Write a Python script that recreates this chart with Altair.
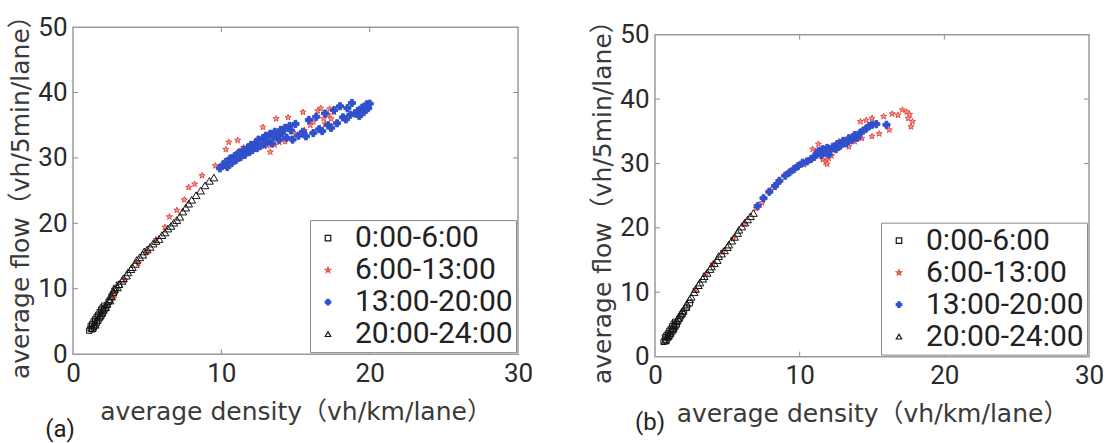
import altair as alt
import pandas as pd

# ---- legend categories and styling ----
PERIODS = ["0:00-6:00", "6:00-13:00", "13:00-20:00", "20:00-24:00"]
STAR = ("M0,-1L0.235,-0.324L0.951,-0.309L0.38,0.124L0.588,0.809L0,0.4"
        "L-0.588,0.809L-0.38,0.124L-0.951,-0.309L-0.235,-0.324Z")
SHAPES = ["square", STAR, "cross", "triangle-up"]
STROKES = ["#151515", "#e8493f", "#3050cc", "#151515"]
FILLS = ["transparent", "#f3a096", "#3050cc", "transparent"]
SIZES = [30, 60, 20, 30]

# ---- panel (a) ----
a_night_density = [1.1, 1.2, 1.2, 1.3, 1.3, 1.4, 1.4, 1.5, 1.5, 1.6, 1.6, 1.7, 1.7, 1.8, 1.8,
                   1.9, 1.9, 2.0, 2.0, 2.1, 2.1, 2.2, 2.3, 2.4, 2.5, 2.6, 2.7, 2.8, 2.9, 3.1]
a_night_flow = [3.6, 3.9, 4.3, 3.8, 4.6, 4.1, 5.0, 4.4, 5.3, 4.8, 5.7, 5.1, 6.0, 5.5, 6.4,
                5.8, 6.8, 6.2, 7.1, 6.6, 7.4, 7.0, 7.5, 8.0, 8.3, 8.8, 9.2, 9.7, 10.1, 10.6]

a_morning_density = [2.8, 3.5, 4.4, 5.0, 5.6, 6.2, 6.5, 7.0, 7.5, 7.8, 8.2, 8.7, 9.6, 10.3, 10.5,
                     11.1, 10.8, 11.0, 11.2, 11.5, 12.0, 12.3, 12.8, 12.9, 13.1, 13.3, 13.6, 13.9,
                     14.1, 13.7, 14.5, 15.0, 15.5, 15.6, 16.0, 16.2, 16.5, 16.7, 16.9, 17.0, 17.2,
                     17.3, 17.4, 17.6, 12.5, 14.3]
a_morning_flow = [9.0, 11.3, 13.9, 15.6, 17.5, 19.4, 21.0, 22.0, 23.6, 25.5, 26.0, 27.3, 28.8, 31.3, 32.4,
                  32.7, 30.0, 30.4, 31.0, 31.6, 31.0, 31.3, 34.7, 31.8, 31.9, 30.9, 32.0, 32.4,
                  33.0, 36.0, 36.2, 33.6, 37.0, 34.2, 35.0, 35.5, 37.2, 37.6, 36.0, 35.2, 36.6,
                  37.5, 36.0, 37.0, 32.5, 32.5]

a_afternoon_density = [9.9, 10.1, 10.3, 10.4, 10.6, 10.7, 10.9, 11.0, 11.2, 11.3, 11.5, 11.6, 11.8,
                       11.9, 12.0, 12.1, 12.3, 12.4, 12.5, 12.6, 12.8, 12.9, 13.0, 13.1, 13.3, 13.4,
                       13.5, 13.6, 13.8, 13.9, 14.0, 14.1, 14.3, 14.4, 14.6, 14.7, 14.8, 15.0, 15.2,
                       15.5, 15.7, 15.9, 16.2, 16.4, 16.6, 16.8, 17.0, 17.2, 17.4, 17.6, 17.8, 18.0,
                       18.2, 18.4, 18.5, 18.7, 18.8, 19.0, 19.2, 19.3, 19.5, 19.6, 19.8, 19.9, 20.0]
a_afternoon_flow = [28.4, 28.9, 29.4, 28.6, 29.9, 29.2, 30.3, 29.7, 30.8, 30.1, 31.2, 30.5, 31.6,
                    30.9, 32.0, 31.2, 32.3, 31.5, 32.8, 31.8, 33.0, 32.1, 33.4, 32.6, 33.7, 32.2,
                    33.2, 34.0, 33.5, 32.8, 34.3, 33.8, 34.6, 33.1, 34.9, 34.2, 32.8, 35.2, 33.4,
                    34.0, 33.3, 35.8, 33.8, 36.3, 34.4, 34.1, 36.8, 35.0, 34.6, 37.3, 35.3, 37.9,
                    36.2, 35.9, 37.6, 36.6, 38.4, 36.8, 37.2, 36.4, 37.7, 37.0, 38.2, 37.6, 38.3]

a_evening_density = [1.3, 1.5, 1.6, 1.8, 1.9, 2.0, 2.2, 2.3, 2.5, 2.6, 2.7, 2.8, 3.0, 3.1, 3.3, 3.4,
                     3.6, 3.7, 3.9, 4.0, 4.2, 4.3, 4.5, 4.7, 4.8, 5.0, 5.2, 5.4, 5.6, 5.8, 6.0, 6.2,
                     6.4, 6.6, 6.8, 7.0, 7.2, 7.4, 7.6, 7.8, 8.0, 8.3, 8.6, 8.9, 9.2, 9.5]
a_evening_flow = [4.0, 4.5, 5.2, 5.9, 6.3, 6.9, 7.2, 7.7, 8.2, 8.8, 9.5, 9.9, 10.2, 10.7, 11.2, 11.6,
                  12.0, 12.5, 13.0, 13.3, 13.8, 14.4, 14.8, 15.2, 15.7, 16.0, 16.4, 16.9, 17.3, 17.6,
                  18.2, 18.6, 19.2, 19.6, 20.1, 20.5, 21.0, 21.8, 22.4, 23.0, 23.6, 24.3, 25.0, 25.8,
                  26.5, 27.0]

# ---- panel (b) ----
b_night_density = [0.6, 0.7, 0.7, 0.8, 0.8, 0.9, 0.9, 1.0, 1.0, 1.1, 1.1, 1.2, 1.2, 1.3, 1.3,
                   1.4, 1.4, 1.5, 1.6, 1.7, 1.8, 1.9, 2.0, 2.2, 2.4]
b_night_flow = [2.3, 2.6, 3.0, 2.5, 3.3, 2.9, 3.6, 3.2, 4.0, 3.5, 4.3, 3.9, 4.7, 4.2, 5.1,
                4.6, 5.4, 5.0, 5.5, 5.9, 6.3, 6.6, 7.0, 7.6, 8.3]

b_morning_density = [2.8, 3.5, 4.0, 4.7, 5.4, 6.2, 7.0, 7.4, 8.0, 8.6, 9.2, 9.8, 10.3, 10.6, 11.0,
                     11.4, 11.6, 11.8, 11.9, 12.0, 12.2, 12.4, 12.7, 13.0, 13.4, 13.8, 14.2, 14.3,
                     14.6, 15.0, 15.0, 15.5, 15.8, 16.2, 16.4, 16.8, 17.1, 17.4, 17.6, 17.8, 17.7,
                     17.5, 10.9, 11.3]
b_morning_flow = [10.4, 12.8, 14.4, 16.3, 18.3, 20.6, 23.0, 23.9, 25.8, 27.2, 28.5, 29.4, 29.8, 30.4,
                  31.0, 31.6, 30.6, 30.2, 29.9, 30.8, 31.2, 32.6, 33.4, 33.0, 32.6, 33.4, 36.5, 33.9,
                  36.7, 37.0, 34.2, 34.6, 37.3, 35.2, 37.7, 37.5, 38.3, 38.0, 37.6, 36.5, 35.7,
                  37.0, 32.2, 33.0]

b_afternoon_density = [7.1, 7.5, 7.9, 8.3, 8.6, 9.0, 9.3, 9.6, 9.9, 10.2, 10.5, 10.8, 11.0, 11.2,
                       11.3, 11.5, 11.6, 11.8, 11.9, 12.0, 12.1, 12.3, 12.5, 12.6, 12.8, 13.0, 13.2,
                       13.4, 13.6, 13.8, 14.0, 14.2, 14.4, 14.6, 14.8, 15.0, 15.3, 16.0]
b_afternoon_flow = [23.4, 24.6, 25.6, 26.5, 27.3, 28.1, 28.6, 29.1, 29.6, 30.1, 30.3, 30.7, 31.0, 31.5,
                    31.9, 31.3, 32.2, 31.7, 32.4, 31.4, 32.0, 32.6, 32.2, 33.0, 32.7, 33.5, 33.1,
                    33.9, 33.6, 34.4, 34.0, 34.8, 35.1, 35.4, 35.8, 36.0, 36.1, 36.0]

b_evening_density = [0.7, 0.9, 1.0, 1.2, 1.3, 1.5, 1.6, 1.8, 1.9, 2.1, 2.2, 2.4, 2.5, 2.7, 2.8, 3.0,
                     3.1, 3.3, 3.4, 3.6, 3.8, 3.9, 4.1, 4.3, 4.4, 4.6, 4.8, 5.0, 5.1, 5.3, 5.5, 5.7,
                     5.8, 6.0, 6.2, 6.4, 6.6, 6.8]
b_evening_flow = [2.5, 3.2, 3.7, 4.4, 4.9, 5.6, 6.0, 6.7, 7.1, 7.7, 8.2, 8.9, 9.3, 10.0, 10.5, 11.1,
                  11.5, 12.1, 12.5, 13.0, 13.6, 14.0, 14.5, 15.0, 15.6, 16.0, 16.5, 17.0, 17.4, 18.0,
                  18.6, 19.2, 19.7, 20.2, 20.8, 21.3, 21.8, 22.3]

X_TICKS = [0, 10, 20, 30]
Y_TICKS = [0, 10, 20, 30, 40, 50]
INNER_X = [10, 20]
INNER_Y = [10, 20, 30, 40]

X_TITLE = "average density（vh/km/lane）"
Y_TITLE = "average flow（vh/5min/lane）"
TITLE_FONT = "DejaVu Sans, Noto Sans CJK JP"
NUM_FONT = "Roboto"


def frame(series):
    rows = []
    for period, dens, flow in series:
        for d, f in zip(dens, flow):
            rows.append({"period": period, "density": d, "flow": f})
    return pd.DataFrame(rows)


def x_enc():
    return alt.X("density:Q", scale=alt.Scale(domain=[0, 30], nice=False),
                 axis=alt.Axis(values=X_TICKS, title=X_TITLE))


def y_enc():
    return alt.Y("flow:Q", scale=alt.Scale(domain=[0, 50], nice=False),
                 axis=alt.Axis(values=Y_TICKS, title=Y_TITLE))


def panel(df, w, h, tag, tag_dx, tag_dy):
    points = alt.Chart(df).mark_point(strokeWidth=1, opacity=1).encode(
        x=x_enc(),
        y=y_enc(),
        color=alt.Color("period:N", title=None,
                        scale=alt.Scale(domain=PERIODS, range=STROKES)),
        fill=alt.Fill("period:N", title=None,
                      scale=alt.Scale(domain=PERIODS, range=FILLS)),
        shape=alt.Shape("period:N", title=None,
                        scale=alt.Scale(domain=PERIODS, range=SHAPES)),
        size=alt.Size("period:N", legend=None,
                      scale=alt.Scale(domain=PERIODS, range=SIZES)),
    )

    # short inward ticks on all four sides of the frame
    xt = pd.DataFrame({"density": INNER_X})
    yt = pd.DataFrame({"flow": INNER_Y})
    tick_style = dict(color="#8c8c8c", strokeWidth=1)
    ticks = [
        alt.Chart(xt).mark_rule(**tick_style).encode(
            x=x_enc(), y=alt.value(0), y2=alt.value(5)),
        alt.Chart(xt).mark_rule(**tick_style).encode(
            x=x_enc(), y=alt.value(h), y2=alt.value(h - 5)),
        alt.Chart(yt).mark_rule(**tick_style).encode(
            y=y_enc(), x=alt.value(0), x2=alt.value(5)),
        alt.Chart(yt).mark_rule(**tick_style).encode(
            y=y_enc(), x=alt.value(w), x2=alt.value(w - 5)),
    ]

    label = alt.Chart(pd.DataFrame({"tag": [tag]})).mark_text(
        font=NUM_FONT, fontSize=24, color="#222", align="center", baseline="middle"
    ).encode(text="tag:N", x=alt.value(tag_dx), y=alt.value(h + tag_dy))

    return alt.layer(points, *ticks, label).properties(width=w, height=h)


df_a = frame([
    (PERIODS[0], a_night_density, a_night_flow),
    (PERIODS[1], a_morning_density, a_morning_flow),
    (PERIODS[2], a_afternoon_density, a_afternoon_flow),
    (PERIODS[3], a_evening_density, a_evening_flow),
])
df_b = frame([
    (PERIODS[0], b_night_density, b_night_flow),
    (PERIODS[1], b_morning_density, b_morning_flow),
    (PERIODS[2], b_afternoon_density, b_afternoon_flow),
    (PERIODS[3], b_evening_density, b_evening_flow),
])

chart = alt.hconcat(
    panel(df_a, 445, 327, "(a)", -13, 76),
    panel(df_b, 434, 322, "(b)", -5, 66),
    spacing=56,
    center=True,
).resolve_legend(
    color="independent", fill="independent", shape="independent"
).properties(
    padding={"left": 8, "top": 1, "right": 0, "bottom": 0},
    background="white",
).configure_view(
    stroke="#9a9a9a", strokeWidth=1.5
).configure_axis(
    ticks=False, domain=False, grid=False,
    labelFont=NUM_FONT, labelFontSize=26, labelColor="#2a2a2a", labelPadding=6,
    labelFlush=False, labelOverlap=False,
    titleFont=TITLE_FONT, titleFontSize=25, titleFontWeight="normal", titleColor="#3a3a3a",
).configure_axisX(
    titlePadding=13
).configure_axisY(
    titlePadding=4
).configure_legend(
    orient="bottom-right", offset=2, padding=3,
    strokeColor="#8a8a8a", fillColor="white", cornerRadius=0,
    labelFont=NUM_FONT, labelFontSize=30, labelColor="#222",
    symbolSize=30, symbolOffset=0, labelOffset=12, rowPadding=2,
    symbolStrokeWidth=1.2,
)

chart.save("out.html", embed_options={"renderer": "svg", "actions": False})
